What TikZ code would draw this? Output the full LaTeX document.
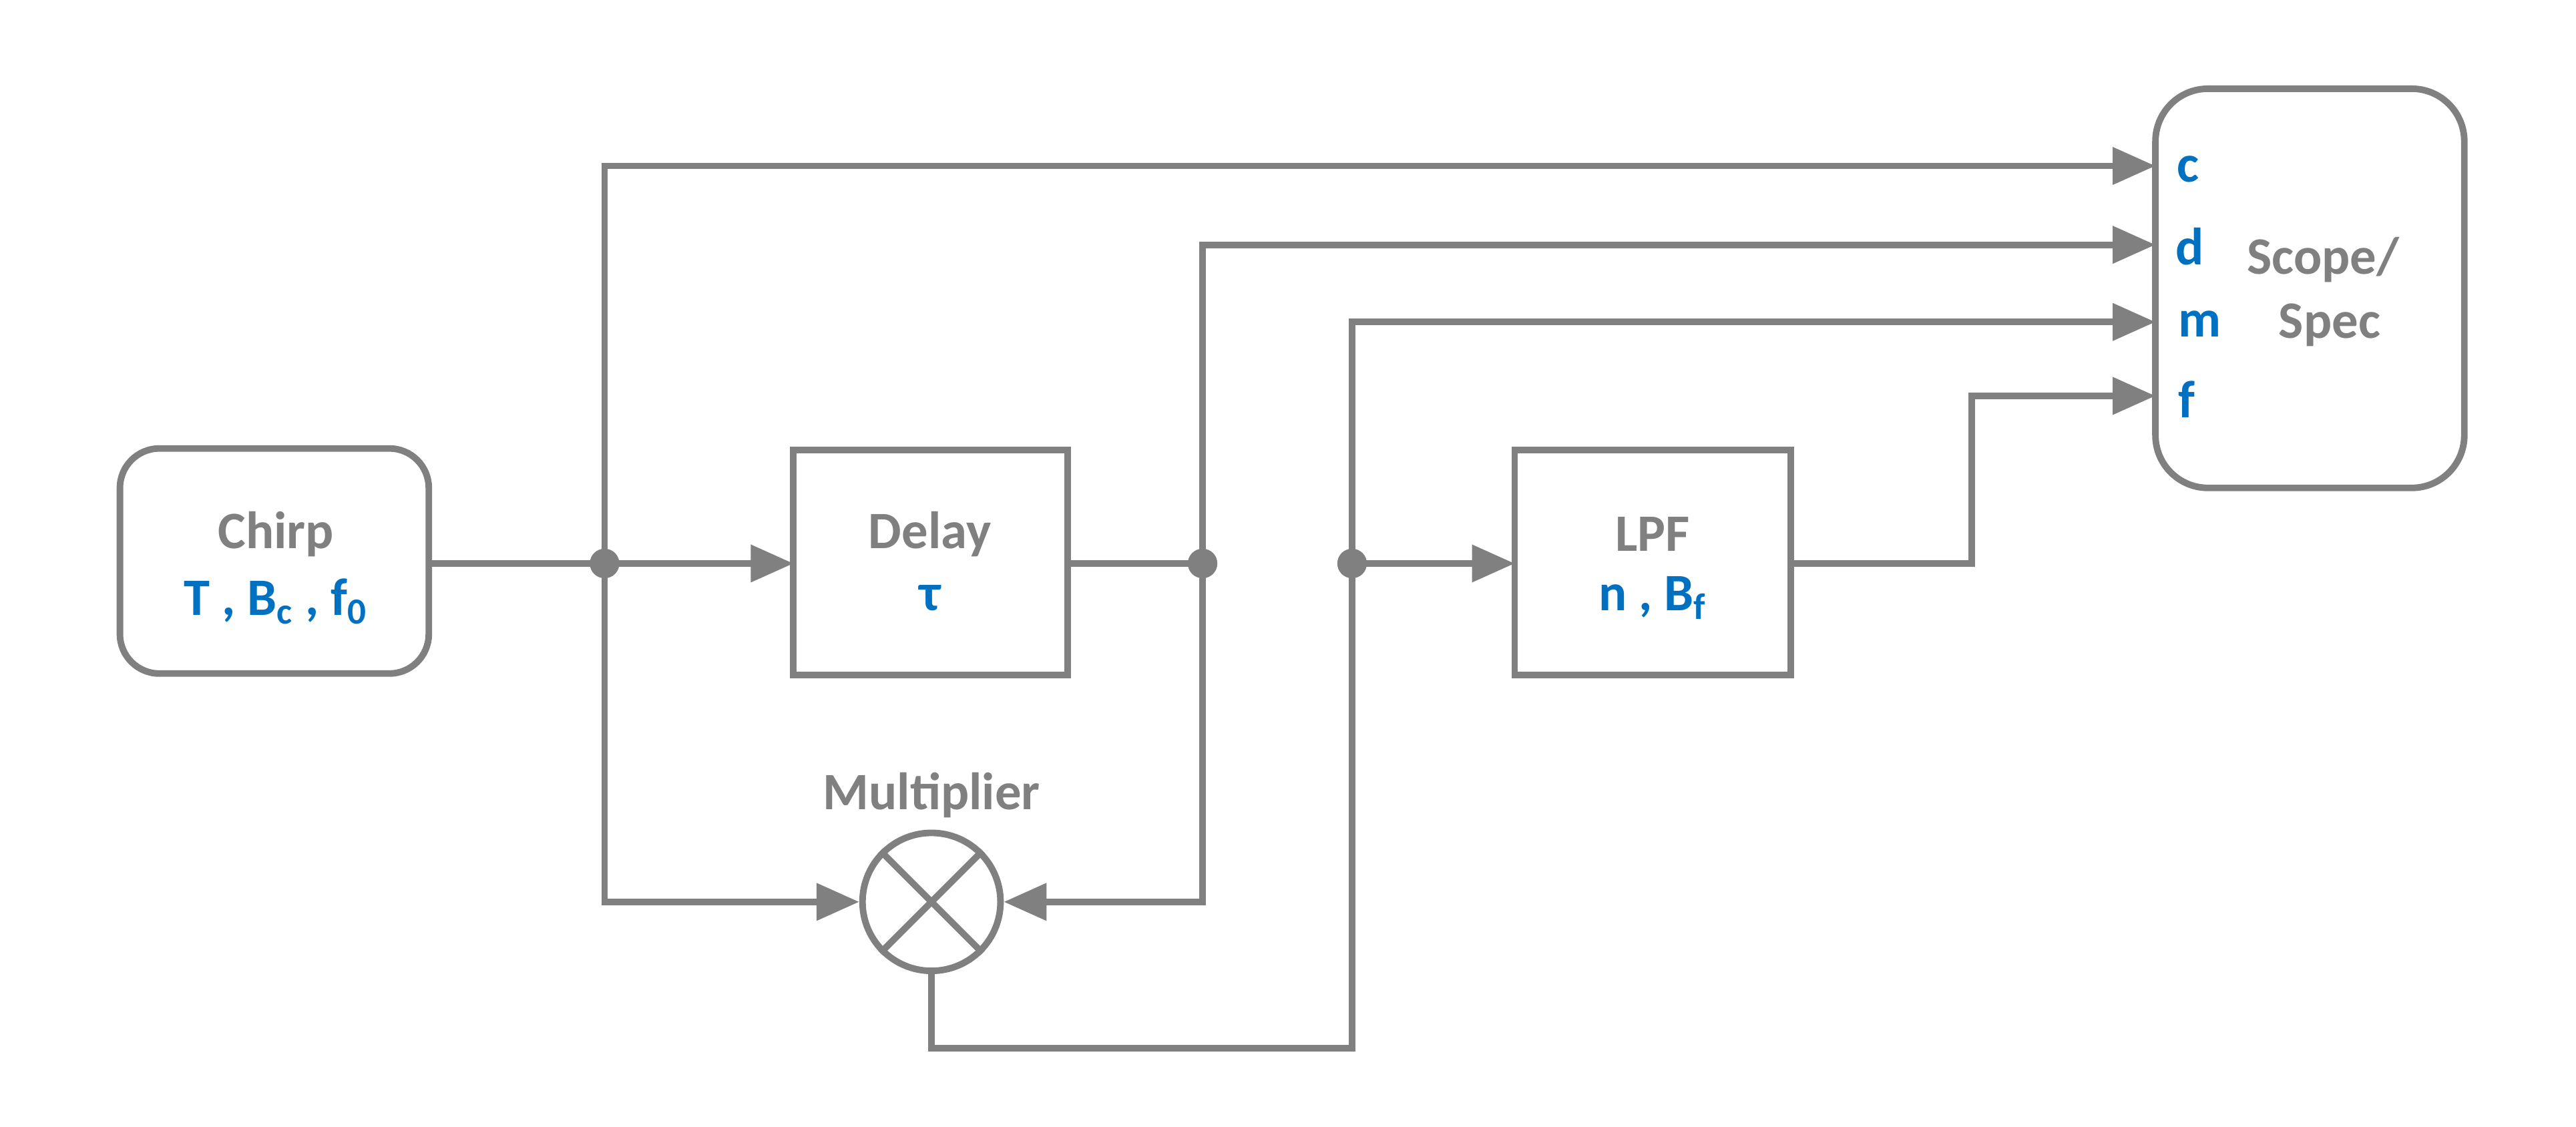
\documentclass[tikz,border=0pt]{standalone}
\usepackage{fontspec}
\setmainfont{Carlito}
\usetikzlibrary{arrows.meta,shapes.geometric}
\definecolor{gr}{RGB}{128,128,128}
\definecolor{bl}{RGB}{0,112,192}
\begin{document}
\begin{tikzpicture}[x=0.5pt,y=-0.5pt,
  line width=2pt, draw=gr,
  box/.style={draw=gr,line width=2pt},
  rbox/.style={draw=gr,line width=2pt,rounded corners=12pt},
  t/.style={text=gr,font=\fontsize{16}{18}\selectfont\bfseries},
  b/.style={text=bl,font=\fontsize{16}{18}\selectfont\bfseries},
  arr/.style={draw=gr,line width=2pt,-{Triangle[length=13pt,width=11pt]}},
  ln/.style={draw=gr,line width=2pt},
  dot/.style={circle,fill=gr,inner sep=0pt,minimum size=9pt}]
\useasboundingbox (0,0) rectangle (1568,686);
\draw[rbox] (73,273) rectangle (261,410);
\draw[box] (483,274) rectangle (650,411);
\draw[box] (922,274) rectangle (1090,411);
\draw[rbox,rounded corners=16pt] (1312,54) rectangle (1500,297);
\node[t] (chirp) at (168,325) {Chirp};
\node[b] (chirpp) at (168,366) {T , B\textsubscript{c} , f\textsubscript{0}};
\node[t] (delay) at (566,325) {Delay};
\node[b] (tau) at (566,364) {τ};
\node[t] (lpf) at (1006,325) {LPF};
\node[b] (lpfp) at (1006,364) {n , B\textsubscript{f}};
\node[t] (sc1) at (1414,158) {Scope/};
\node[t] (sc2) at (1418,198) {Spec};
\node[b] (lc) at (1332,103) {c};
\node[b] (ld) at (1333,150) {d};
\node[b] (lm) at (1339,197) {m};
\node[b] (lf) at (1331,243) {f};
\node[t] (mult) at (567,484) {Multiplier};
\node[circle,draw=gr,line width=2pt,minimum size=84pt*0.5+0pt,inner sep=0pt] (mx) at (567,549) {};
\draw[ln] (mx.north west) -- (mx.south east) (mx.north east) -- (mx.south west);
\coordinate (cr) at (261,343);
\coordinate (dl) at (483,343);
\coordinate (dr) at (650,343);
\coordinate (ll) at (922,343);
\coordinate (lr) at (1090,343);
\node[dot] (j1) at (368,343) {};
\node[dot] (j2) at (732,343) {};
\node[dot] (j3) at (823,343) {};
\coordinate (sc) at (1312,101);
\coordinate (sd) at (1312,149);
\coordinate (sm) at (1312,196);
\coordinate (sf) at (1312,241);
\draw[ln] (cr) -- (j1.center);
\draw[arr] (j1.center) -- (dl);
\draw[ln] (dr) -- (j2.center);
\draw[arr] (j3.center) -- (ll);
\draw[arr] (j1.center) -- (368,101) -- (sc);
\draw[arr] (j2.center) -- (732,149) -- (sd);
\draw[arr] (j3.center) -- (823,196) -- (sm);
\draw[arr] (lr) -- (1200,343) -- (1200,241) -- (sf);
\draw[arr] (j1.center) -- (368,549) -- (mx.west);
\draw[arr] (j2.center) -- (732,549) -- (mx.east);
\draw[ln] (mx.south) -- (567,638) -- (823,638) -- (j3.center);
\end{tikzpicture}
\end{document}
